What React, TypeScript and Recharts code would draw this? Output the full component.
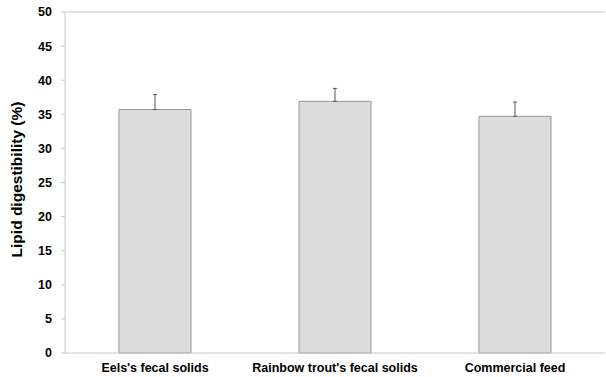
import { Bar, BarChart, ErrorBar, ReferenceLine, XAxis, YAxis } from "recharts";

const categories = ["Eels's fecal solids", "Rainbow trout's fecal solids", "Commercial feed"];
const digestibility = [35.7, 36.9, 34.7];
const errorUp = [2.2, 1.9, 2.1];
const yTicks = [0, 5, 10, 15, 20, 25, 30, 35, 40, 45, 50];

const data = categories.map((name, i) => ({
  name,
  value: digestibility[i],
  err: [0, errorUp[i]],
}));

const tickStyle = { fill: "#000", fontFamily: "Liberation Sans, Arial", fontWeight: 700, fontSize: 12.5 };

export default function App() {
  return (
    <div style={{ position: "absolute", left: 0, top: 0, background: "#fff" }}>
      <BarChart width={606} height={377} data={data} margin={{ top: 12, right: 1, bottom: 0, left: 0 }} barCategoryGap="30%">
        <XAxis
          dataKey="name"
          height={24}
          tickLine={false}
          tickSize={0}
          tickMargin={10}
          stroke="#c8c8c8"
          tick={tickStyle}
        />
        <YAxis
          width={65}
          domain={[0, 50]}
          ticks={yTicks}
          interval={0}
          tickSize={4}
          tickMargin={9}
          stroke="#c8c8c8"
          tick={tickStyle}
          label={{
            value: "Lipid digestibility (%)",
            angle: -90,
            position: "insideLeft",
            dx: 11,
            dy: -3,
            style: { textAnchor: "middle", fill: "#000", fontFamily: "Liberation Sans, Arial", fontWeight: 700, fontSize: 15.5 },
          }}
        />
        <ReferenceLine y={50} stroke="#c8c8c8" />
        <Bar dataKey="value" fill="#dcdcdc" stroke="#999" strokeWidth={1} isAnimationActive={false}>
          <ErrorBar dataKey="err" width={2} stroke="#555" strokeWidth={1} isAnimationActive={false} />
        </Bar>
      </BarChart>
    </div>
  );
}
